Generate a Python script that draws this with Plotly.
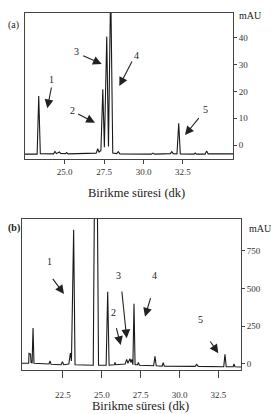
import plotly.graph_objects as go

W, H = 278, 414

# ---------------- data ----------------
# Panel (a): retention time (min) vs absorbance (mAU)
time_a = [22.49, 23.26, 23.36, 23.46, 24.30, 24.39, 24.48, 24.60, 24.67, 24.75,
          25.05, 25.13, 25.22, 27.00, 27.10, 27.18, 27.30, 27.42, 27.52, 27.67,
          27.78, 27.92, 28.05, 28.30, 28.40, 28.50, 30.50, 30.60, 30.70, 31.70,
          31.79, 31.88, 32.12, 32.23, 32.33, 33.20, 33.27, 33.35, 33.90, 34.00,
          34.10, 35.67]
mau_a = [-3.4, -3.4, 18.3, -3.2, -3.3, -2.4, -3.2, -3.0, -2.6, -3.1,
         -3.2, -2.8, -3.3, -3.0, -1.4, -2.6, -2.0, 20.8, -0.8, 40.4,
         -0.5, 60.0, -3.0, -3.2, -2.5, -3.3, -3.4, -3.0, -3.4, -3.2,
         -2.5, -3.2, -3.3, 8.1, -3.3, -3.4, -3.0, -3.4, -3.4, -2.2,
         -3.3, -3.3]

# Panel (b)
time_b = [19.87, 20.30, 20.32, 20.42, 20.45, 20.52, 20.58, 20.64, 21.60, 21.67,
          21.74, 22.38, 22.47, 22.55, 22.88, 22.98, 23.05, 23.19, 23.28, 24.45,
          24.54, 24.70, 24.79, 25.28, 25.38, 25.47, 25.80, 25.85, 25.90, 26.50,
          26.60, 26.68, 26.81, 26.87, 26.93, 27.00, 27.07, 27.14, 27.30, 27.35,
          27.42, 28.33, 28.42, 28.50, 28.88, 28.95, 29.02, 31.00, 31.10, 31.20,
          32.84, 32.92, 33.00, 33.45, 33.50, 33.56, 33.95]
mau_b = [5, 5, 70, 65, 10, 8, 239, 5, 0, 20,
         -2, -5, 15, -5, 0, 73, 20, 890, -5, -8,
         1300, 1300, -8, -8, 480, -8, -5, 10, -5, 0,
         30, 5, 35, 10, 30, -5, 400, -5, -5, 10,
         -8, -12, 50, -12, -14, 8, -14, -16, -3, -16,
         -18, 64, -18, -18, 0, -18, -20]

xticks_a = [25.0, 27.5, 30.0, 32.5]
xticklabels_a = ["25.0", "27.5", "30.0", "32.5"]
yticks_a = [0, 10, 20, 30, 40]
xticks_b = [22.5, 25.0, 27.5, 30.0, 32.5]
xticklabels_b = ["22.5", "25.0", "27.5", "30.0", "32.5"]
yticks_b = [0, 250, 500, 750]

xtitle = "Birikme süresi (dk)"
unit = "mAU"
peak_labels = ["1", "2", "3", "4", "5"]

# ---------------- figure ----------------
SERIF = "Times New Roman, Liberation Serif, DejaVu Serif, serif"
INK = "#222222"

def px(x):
    return x / W

def py(y):
    return 1 - y / H

fig = go.Figure()
fig.add_trace(go.Scatter(x=time_a, y=mau_a, mode="lines", xaxis="x", yaxis="y",
                         line=dict(color="#1a1a1a", width=1.1), showlegend=False,
                         hoverinfo="skip"))
fig.add_trace(go.Scatter(x=time_b, y=mau_b, mode="lines", xaxis="x2", yaxis="y2",
                         line=dict(color="#1a1a1a", width=1.1), showlegend=False,
                         hoverinfo="skip"))

tickfont = dict(family=SERIF, size=9, color="#333333")
common_x = dict(showgrid=False, zeroline=False, showline=True, linecolor="#444444",
                linewidth=1, mirror=True, ticks="outside",
                tickcolor="#444444", tickfont=tickfont)
common_y = dict(showgrid=False, zeroline=False, showline=True, linecolor="#444444",
                linewidth=1, mirror=True, ticks="outside", ticklen=3,
                tickcolor="#444444", tickfont=tickfont, side="right")

fig.update_layout(
    width=W, height=H, margin=dict(l=0, r=0, t=0, b=0),
    paper_bgcolor="white", plot_bgcolor="white",
    xaxis=dict(domain=[px(25), px(233)], range=[22.49, 35.67], anchor="y",
               tickvals=xticks_a, ticktext=xticklabels_a, ticklen=4, **common_x),
    yaxis=dict(domain=[py(159), py(12.7)], range=[-5.2, 49.3], anchor="x",
               tickvals=yticks_a, **common_y),
    xaxis2=dict(domain=[px(22), px(241)], range=[19.87, 33.95], anchor="y2",
                tickvals=xticks_b, ticktext=xticklabels_b, ticklen=7,
                ticklabelstandoff=9, **common_x),
    yaxis2=dict(domain=[py(370), py(219)], range=[-40, 962], anchor="x2",
                tickvals=yticks_b, **common_y),
)

def text_at(x, y, s, size=10, bold=False):
    fig.add_annotation(x=px(x), y=py(y), xref="paper", yref="paper",
                       text=("<b>%s</b>" % s) if bold else s, showarrow=False,
                       font=dict(family=SERIF, size=size, color=INK),
                       xanchor="center", yanchor="middle")

def arrow(tail, head):
    fig.add_annotation(x=px(head[0]), y=py(head[1]), xref="paper", yref="paper",
                       ax=tail[0] - head[0], ay=tail[1] - head[1],
                       text="", showarrow=True, arrowhead=2, arrowsize=1.6,
                       arrowwidth=1.1, arrowcolor=INK, standoff=0)

# panel (a) labels
text_at(13.3, 25, "(a)", 10)
text_at(250, 15, unit, 10)
text_at(136.7, 192.7, xtitle, 12.5)
a_lab = [(51.5, 79.5), (72.7, 110), (76.7, 51.7), (136.7, 55), (205.7, 109.3)]
a_arr = [((51.7, 86), (47.3, 108.3)), ((76.7, 113.3), (95, 122.7)),
         ((81.7, 55), (101.7, 64)), ((132.7, 60), (119.3, 86)),
         ((200, 116.7), (185, 135))]
for s, p, (t, h) in zip(peak_labels, a_lab, a_arr):
    text_at(p[0], p[1], s, 10)
    arrow(t, h)

# panel (b) labels
text_at(14, 228.3, "(b)", 10, bold=True)
text_at(260, 228.3, unit, 10)
text_at(140, 406, xtitle, 12.5)
b_lab = [(49.3, 261.7), (113.3, 312.7), (118.3, 275), (154, 275), (200, 319.3)]
b_arr = [((51.7, 277.3), (64, 294)), ((116, 326.7), (120.7, 345)),
         ((121.7, 290), (126.7, 338.3)), ((151, 296.7), (145, 316.7)),
         ((209.3, 340), (218.3, 353.3))]
for s, p, (t, h) in zip(peak_labels, b_lab, b_arr):
    text_at(p[0], p[1], s, 10)
    arrow(t, h)

fig.write_html("out.html")
